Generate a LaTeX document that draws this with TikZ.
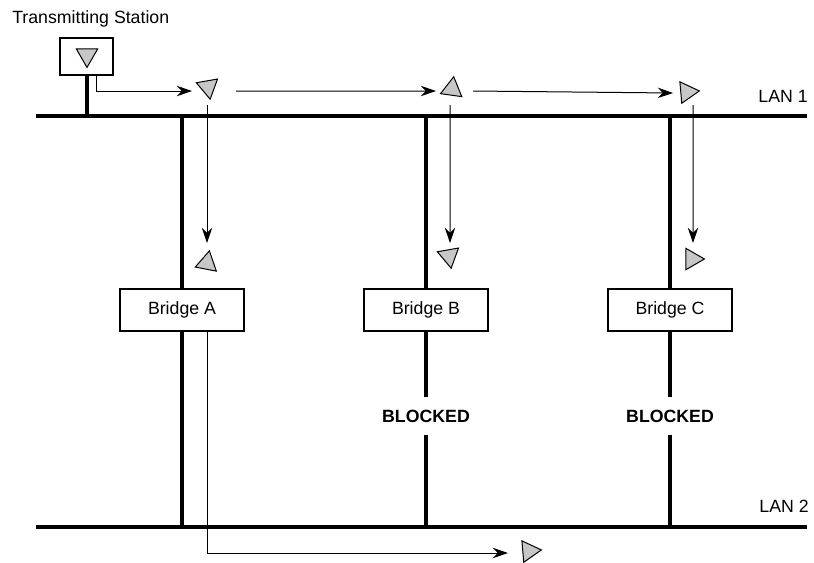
\documentclass[tikz,border=0pt]{standalone}
\usepackage{fontspec}
\setmainfont{Liberation Sans}
\usetikzlibrary{shapes.geometric, arrows.meta, positioning}

\begin{document}
\begin{tikzpicture}[
  x=0.025cm, y=-0.025cm,
  bus/.style={line width=0.1cm, line cap=butt},
  station/.style={draw, line width=0.05cm, minimum width=1.325cm, minimum height=0.925cm, inner sep=0},
  bridge/.style={draw, fill=white, line width=0.05cm, minimum width=3.1cm, minimum height=1.05cm, font=\fontsize{12.6}{15}\selectfont},
  frame/.style={draw, regular polygon, regular polygon sides=3, fill=black!22, line width=0.025cm, minimum size=0.62cm, inner sep=0},
  blocked/.style={font=\fontsize{12.6}{15}\selectfont\bfseries, inner xsep=0, inner ysep=0.3cm},
  lantext/.style={font=\fontsize{12.6}{15}\selectfont, inner sep=0},
  arrow/.style={-{Stealth[length=0.38cm, width=0.26cm]}, line width=0.025cm}
]
\useasboundingbox (0,0) rectangle (814,562);

% LANs
\coordinate (lan1w) at (36,116);
\coordinate (lan1e) at (807,116);
\coordinate (lan2w) at (36,527);
\coordinate (lan2e) at (807,527);
\node[lantext, anchor=base east] (lan1) at (808,102) {LAN 1};
\node[lantext, anchor=base east] (lan2) at (809,512) {LAN 2};

% station
\node[lantext, anchor=base west] (stlabel) at (12,23.5) {Transmitting Station};
\node[station] (station) at (86.5,56.5) {};
\node[frame, rotate=180] (ts) at (87,55) {};

% bridges
\node[bridge] (bA) at (182,310) {Bridge A};
\node[bridge] (bB) at (426,310) {Bridge B};
\node[bridge] (bC) at (670,310) {Bridge C};
\node[blocked] (blkB) at (426,416) {BLOCKED};
\node[blocked] (blkC) at (670,416) {BLOCKED};

% frames
\node[frame, rotate=190] (t1) at (208,87) {};
\node[frame, rotate=-8]  (t2) at (452,89) {};
\node[frame, rotate=-85] (t3) at (687,92) {};
\node[frame, rotate=-11] (a1) at (207,263) {};
\node[frame, rotate=190] (b1) at (449,256) {};
\node[frame, rotate=-90] (c1) at (692,259) {};
\node[frame, rotate=-85] (d1) at (529,551) {};

% thick wiring
\draw[bus] (lan1w) -- (lan1e);
\draw[bus] (lan2w) -- (lan2e);
\draw[bus] (station.south) -- (station.south |- lan1w);
\draw[bus] (bA.north |- lan1w) -- (bA.north);
\draw[bus] (bA.south) -- (bA.south |- lan2w);
\draw[bus] (bB.north |- lan1w) -- (bB.north);
\draw[bus] (bB.south) -- (blkB.north);
\draw[bus] (blkB.south) -- (bB.south |- lan2w);
\draw[bus] (bC.north |- lan1w) -- (bC.north);
\draw[bus] (bC.south) -- (blkC.north);
\draw[bus] (blkC.south) -- (bC.south |- lan2w);

% frame flow
\draw[arrow] ([xshift=0.25cm]station.south) |- ([xshift=-0.4cm,yshift=-0.1cm]t1.center);
\draw[arrow] ([xshift=0.7cm,yshift=-0.1cm]t1.center) -- ([xshift=-0.4cm,yshift=-0.05cm]t2.center);
\draw[arrow] ([xshift=0.525cm,yshift=-0.05cm]t2.center) -- ([xshift=-0.35cm,yshift=-0.025cm]t3.center);
\draw[arrow] ([xshift=-0.025cm,yshift=-0.45cm]t1.center) -- ([yshift=0.5cm]a1.center);
\draw[arrow] ([xshift=-0.05cm,yshift=-0.4cm]t2.center) -- ([xshift=0.025cm,yshift=0.325cm]b1.center);
\draw[arrow] ([xshift=0.15cm,yshift=-0.325cm]t3.center) -- ([xshift=0.025cm,yshift=0.4cm]c1.center);
\draw[arrow] ([xshift=0.625cm]bA.south) |- ([xshift=-0.525cm,yshift=-0.05cm]d1.center);

\end{tikzpicture}
\end{document}
